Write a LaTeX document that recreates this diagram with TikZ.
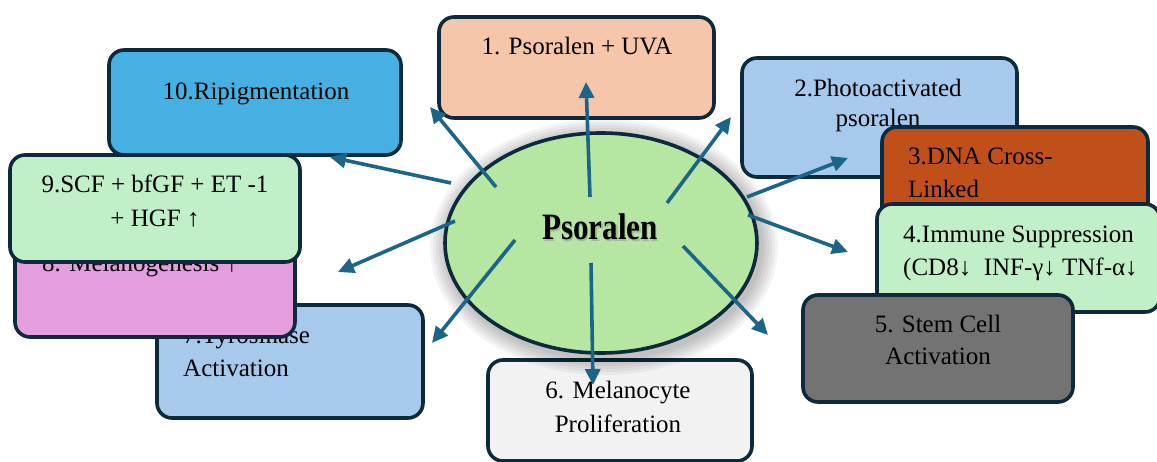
\documentclass[tikz,border=0pt]{standalone}
\usepackage{fontspec}
\setmainfont{Liberation Serif}
\usetikzlibrary{arrows.meta,shapes.geometric}
\definecolor{bordc}{HTML}{0C2A3B}
\definecolor{arrc}{HTML}{1A6588}
\definecolor{cpeach}{HTML}{F5C6A9}
\definecolor{clblue}{HTML}{A6C9EC}
\definecolor{corange}{HTML}{C0501A}
\definecolor{clgreen}{HTML}{C1F0C8}
\definecolor{cgray}{HTML}{737373}
\definecolor{clgray}{HTML}{F2F2F2}
\definecolor{cpink}{HTML}{E49EDD}
\definecolor{cblue}{HTML}{45B0E1}
\definecolor{cell}{HTML}{B5E6A2}
\begin{document}
\begin{tikzpicture}[x=1pt,y=-1pt,
  box/.style={draw=bordc, line width=3.6pt, rounded corners=15pt, inner sep=0pt},
  txt/.style={font=\fontsize{25}{30}\selectfont, anchor=base, inner sep=0pt, text=black},
  ltxt/.style={txt, anchor=base west},
  arr/.style={draw=arrc, line width=3.6pt, -{Triangle[length=16pt,width=15pt]}}]
\useasboundingbox (0,0) rectangle (1157,462);
\fill[white] (0,0) rectangle (1157,462);

% left group
\node[box, fill=cblue, minimum width=292pt, minimum height=105pt] (b10) at (255,102.5) {};
\node[txt] (t10) at (256,100) {10.Ripigmentation};
\node[box, fill=clblue, minimum width=266pt, minimum height=113pt] (b7) at (290,361.5) {};
\node[ltxt] (t7a) at (183,344) {7.Tyrosinase};
\node[ltxt] (t7b) at (183,377) {Activation};
\node[box, fill=cpink, minimum width=280pt, minimum height=112pt] (b8) at (155,281) {};
\node[ltxt] (t8) at (42,272) {8. Melanogenesis ↑};
\node[box, fill=clgreen, minimum width=290pt, minimum height=107pt] (b9) at (155,208.5) {};
\node[txt] (t9a) at (155,193) {9.SCF + bfGF + ET -1};
\node[txt] (t9b) at (155,227) {+ HGF ↑};

% right group
\node[box, fill=clblue, minimum width=275pt, minimum height=119pt] (b2) at (879.5,117.5) {};
\node[txt] (t2a) at (878,97) {2.Photoactivated};
\node[txt] (t2b) at (878,127) {psoralen};
\node[box, fill=corange, minimum width=266pt, minimum height=103pt] (b3) at (1015,178.5) {};
\node[ltxt] (t3a) at (908,165) {3.DNA Cross-};
\node[ltxt] (t3b) at (908,198) {Linked};
\node[box, fill=clgreen, minimum width=283pt, minimum height=108pt] (b4) at (1018.5,258) {};
\node[ltxt] (t4a) at (903,243) {4.Immune Suppression};
\node[ltxt] (t4b) at (903,276) {(CD8↓\ \ INF-γ↓ TNf-α↓};
\node[box, fill=cgray, minimum width=270pt, minimum height=107pt] (b5) at (938,348.5) {};
\node[txt] (t5a) at (938,333) {5. Stem Cell};
\node[txt] (t5b) at (938,365) {Activation};

% top and bottom
\node[box, fill=cpeach, minimum width=275pt, minimum height=101pt] (b1) at (576.5,67.5) {};
\node[txt] (t1) at (577,55) {1. Psoralen + UVA};
\node[box, fill=clgray, minimum width=264pt, minimum height=101pt] (b6) at (620,410.5) {};
\node[txt] (t6a) at (618,398) {6. Melanocyte};
\node[txt] (t6b) at (618,432) {Proliferation};

% central ellipse with soft shadow
\foreach \r in {18,15,12,9,6,3}
  \fill[black, opacity=0.045] (604,247) ellipse ({156+\r} and {110+\r});
\node[draw=bordc, line width=3.6pt, fill=cell, ellipse, minimum width=312pt, minimum height=220pt, inner sep=0pt] (e) at (601,243) {};
\node[anchor=base, inner sep=0pt, text=black!40, opacity=0.6] (ps) at (601.5,241.5) {\scalebox{1}[1.2]{\fontsize{31}{36}\selectfont\bfseries Psoralen}};
\node[anchor=base, inner sep=0pt] (pt) at (600,240) {\scalebox{1}[1.2]{\fontsize{31}{36}\selectfont\bfseries Psoralen}};

% arrow ends
\coordinate (s1) at (590,197);  \coordinate (e1) at (586,82);
\coordinate (s2) at (667,203);  \coordinate (e2) at (731,117);
\coordinate (s3) at (747,197);  \coordinate (e3) at (848,158);
\coordinate (s4) at (748,215);  \coordinate (e4) at (848,252);
\coordinate (s5) at (683,246);  \coordinate (e5) at (768,335);
\coordinate (s6) at (591,263);  \coordinate (e6) at (593,385);
\coordinate (s7) at (515,240);  \coordinate (e7) at (432,343);
\coordinate (s8) at (455,221);  \coordinate (e8) at (338,272);
\coordinate (s9) at (451,183);  \coordinate (e9) at (330,157);
\coordinate (s10) at (496,187); \coordinate (e10) at (430,107);
\foreach \i in {1,...,10}
  \draw[arr] (s\i) -- (e\i);
\end{tikzpicture}
\end{document}
